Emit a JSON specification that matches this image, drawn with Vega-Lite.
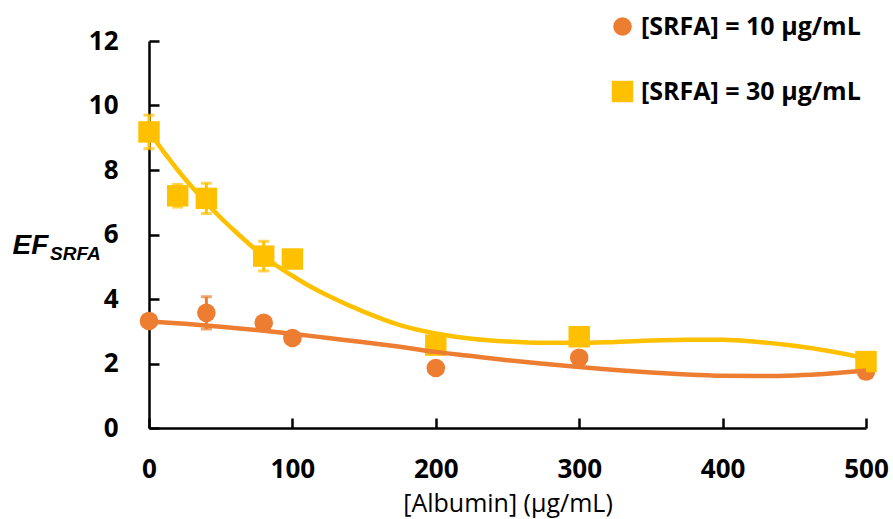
{
  "$schema": "https://vega.github.io/schema/vega-lite/v6.json",
  "width": 717,
  "height": 387,
  "autosize": {"type": "none"},
  "padding": {"left": 149, "top": 41, "right": 27, "bottom": 91},
  "background": "white",
  "title": {
    "text": "SRFA",
    "anchor": "start",
    "frame": "group",
    "orient": "top",
    "align": "left",
    "baseline": "alphabetic",
    "offset": 0,
    "dx": -99,
    "dy": 265,
    "font": "Liberation Sans",
    "fontSize": 19,
    "fontStyle": "italic",
    "fontWeight": "bold",
    "color": "black"
  },
  "datasets": {
    "points": [
      {"series": "[SRFA] = 10 µg/mL", "albumin": 0, "ef": 3.32, "lo": 3.22, "hi": 3.42},
      {"series": "[SRFA] = 10 µg/mL", "albumin": 40, "ef": 3.57, "lo": 3.07, "hi": 4.07},
      {"series": "[SRFA] = 10 µg/mL", "albumin": 80, "ef": 3.26, "lo": 3.16, "hi": 3.36},
      {"series": "[SRFA] = 10 µg/mL", "albumin": 100, "ef": 2.79, "lo": 2.69, "hi": 2.89},
      {"series": "[SRFA] = 10 µg/mL", "albumin": 200, "ef": 1.86, "lo": 1.76, "hi": 1.96},
      {"series": "[SRFA] = 10 µg/mL", "albumin": 300, "ef": 2.18, "lo": 2.08, "hi": 2.28},
      {"series": "[SRFA] = 10 µg/mL", "albumin": 500, "ef": 1.75, "lo": 1.65, "hi": 1.85},
      {"series": "[SRFA] = 30 µg/mL", "albumin": 0, "ef": 9.18, "lo": 8.66, "hi": 9.7},
      {"series": "[SRFA] = 30 µg/mL", "albumin": 20, "ef": 7.2, "lo": 6.85, "hi": 7.55},
      {"series": "[SRFA] = 30 µg/mL", "albumin": 40, "ef": 7.12, "lo": 6.65, "hi": 7.59},
      {"series": "[SRFA] = 30 µg/mL", "albumin": 80, "ef": 5.33, "lo": 4.87, "hi": 5.79},
      {"series": "[SRFA] = 30 µg/mL", "albumin": 100, "ef": 5.24, "lo": 4.99, "hi": 5.49},
      {"series": "[SRFA] = 30 µg/mL", "albumin": 200, "ef": 2.57, "lo": 2.37, "hi": 2.77},
      {"series": "[SRFA] = 30 µg/mL", "albumin": 300, "ef": 2.83, "lo": 2.68, "hi": 2.98},
      {"series": "[SRFA] = 30 µg/mL", "albumin": 500, "ef": 2.06, "lo": 1.96, "hi": 2.16}
    ],
    "trend10": [
      {"albumin": 0, "ef": 3.30}, {"albumin": 25, "ef": 3.23}, {"albumin": 50, "ef": 3.14},
      {"albumin": 75, "ef": 3.04}, {"albumin": 100, "ef": 2.92}, {"albumin": 125, "ef": 2.79},
      {"albumin": 150, "ef": 2.66}, {"albumin": 175, "ef": 2.52}, {"albumin": 200, "ef": 2.36},
      {"albumin": 225, "ef": 2.23}, {"albumin": 250, "ef": 2.10}, {"albumin": 275, "ef": 1.99},
      {"albumin": 300, "ef": 1.89}, {"albumin": 325, "ef": 1.80}, {"albumin": 350, "ef": 1.72},
      {"albumin": 375, "ef": 1.66}, {"albumin": 400, "ef": 1.62}, {"albumin": 425, "ef": 1.61},
      {"albumin": 450, "ef": 1.63}, {"albumin": 475, "ef": 1.69}, {"albumin": 500, "ef": 1.78}
    ],
    "trend30": [
      {"albumin": 0, "ef": 9.18}, {"albumin": 10, "ef": 8.58}, {"albumin": 20, "ef": 8.00},
      {"albumin": 30, "ef": 7.47}, {"albumin": 40, "ef": 6.98}, {"albumin": 50, "ef": 6.52},
      {"albumin": 60, "ef": 6.10}, {"albumin": 70, "ef": 5.70}, {"albumin": 80, "ef": 5.33},
      {"albumin": 90, "ef": 5.00}, {"albumin": 100, "ef": 4.72}, {"albumin": 110, "ef": 4.45},
      {"albumin": 125, "ef": 4.10}, {"albumin": 150, "ef": 3.60}, {"albumin": 175, "ef": 3.19},
      {"albumin": 200, "ef": 2.93}, {"albumin": 225, "ef": 2.77}, {"albumin": 250, "ef": 2.68},
      {"albumin": 275, "ef": 2.64}, {"albumin": 300, "ef": 2.64}, {"albumin": 325, "ef": 2.67},
      {"albumin": 350, "ef": 2.71}, {"albumin": 375, "ef": 2.74}, {"albumin": 400, "ef": 2.74},
      {"albumin": 425, "ef": 2.67}, {"albumin": 450, "ef": 2.55}, {"albumin": 475, "ef": 2.38},
      {"albumin": 500, "ef": 2.16}
    ]
  },
  "encoding": {
    "x": {
      "field": "albumin",
      "type": "quantitative",
      "scale": {"domain": [0, 500], "nice": false},
      "axis": {
        "title": "[Albumin] (µg/mL)",
        "values": [0, 100, 200, 300, 400, 500],
        "labelPadding": 38,
        "titleY": 63,
        "titleBaseline": "top"
      }
    },
    "y": {
      "field": "ef",
      "type": "quantitative",
      "scale": {"domain": [0, 12], "nice": false},
      "axis": {
        "title": "EF",
        "values": [0, 2, 4, 6, 8, 10, 12],
        "labelPadding": 41,
        "titleAngle": 0,
        "titleAlign": "left",
        "titleBaseline": "alphabetic",
        "titleX": -137,
        "titleY": 212,
        "titleFont": "Liberation Sans",
        "titleFontSize": 28,
        "titleFontStyle": "italic",
        "titleFontWeight": "bold"
      }
    }
  },
  "layer": [
    {
      "data": {"name": "points"},
      "transform": [{"filter": "datum.series === '[SRFA] = 10 µg/mL'"}],
      "mark": {"type": "errorbar", "color": "#ED7D31", "ticks": {"size": 11, "thickness": 3}, "rule": {"strokeWidth": 3}},
      "encoding": {
        "y": {"field": "lo", "type": "quantitative"},
        "y2": {"field": "hi"}
      }
    },
    {
      "data": {"name": "points"},
      "transform": [{"filter": "datum.series === '[SRFA] = 30 µg/mL'"}],
      "mark": {"type": "errorbar", "color": "#FFC000", "ticks": {"size": 11, "thickness": 3}, "rule": {"strokeWidth": 3}},
      "encoding": {
        "y": {"field": "lo", "type": "quantitative"},
        "y2": {"field": "hi"}
      }
    },
    {
      "data": {"name": "points"},
      "mark": {"type": "point", "filled": true, "opacity": 1, "strokeWidth": 0},
      "encoding": {
        "color": {
          "field": "series",
          "type": "nominal",
          "scale": {"domain": ["[SRFA] = 10 µg/mL", "[SRFA] = 30 µg/mL"], "range": ["#ED7D31", "#FFC000"]},
          "legend": {
            "title": null,
            "orient": "none",
            "legendX": 461,
            "legendY": -27,
            "rowPadding": 39,
            "labelOffset": 6,
            "labelFont": "Open Sans",
            "labelFontSize": 25,
            "labelFontWeight": "bold",
            "labelColor": "black",
            "labelLimit": 400
          }
        },
        "shape": {
          "field": "series",
          "type": "nominal",
          "scale": {"domain": ["[SRFA] = 10 µg/mL", "[SRFA] = 30 µg/mL"], "range": ["circle", "square"]}
        },
        "size": {
          "field": "series",
          "type": "nominal",
          "scale": {"domain": ["[SRFA] = 10 µg/mL", "[SRFA] = 30 µg/mL"], "range": [346, 460]}
        }
      }
    },
    {
      "data": {"name": "trend10"},
      "mark": {"type": "line", "color": "#ED7D31", "strokeWidth": 4.5, "interpolate": "monotone"},
      "encoding": {}
    },
    {
      "data": {"name": "trend30"},
      "mark": {"type": "line", "color": "#FFC000", "strokeWidth": 4.5, "interpolate": "monotone"},
      "encoding": {}
    }
  ],
  "config": {
    "view": {"stroke": null},
    "axis": {
      "grid": false,
      "domainColor": "black",
      "domainWidth": 2.5,
      "tickColor": "black",
      "tickWidth": 2.5,
      "tickSize": -10,
      "labelFont": "Open Sans",
      "labelFontSize": 26,
      "labelFontWeight": "bold",
      "labelColor": "black",
      "labelFlush": false,
      "labelOverlap": false,
      "titleFont": "Open Sans",
      "titleFontSize": 25,
      "titleFontWeight": "normal",
      "titleColor": "black"
    },
    "legend": {"symbolType": "circle"}
  }
}
